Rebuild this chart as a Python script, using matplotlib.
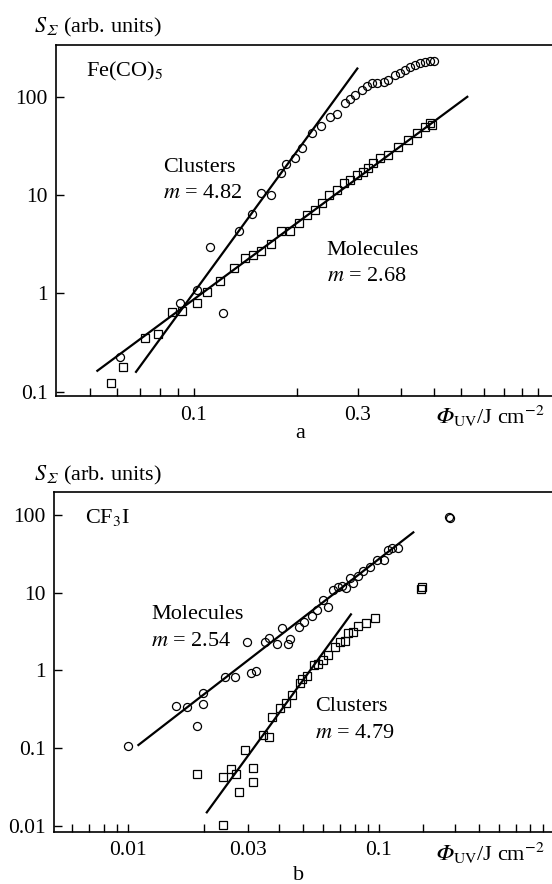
import numpy as np
import matplotlib
matplotlib.use('Agg')
import matplotlib.pyplot as plt
from matplotlib.ticker import NullLocator

plt.rcParams['font.family'] = ['Liberation Serif', 'DejaVu Serif']
plt.rcParams['mathtext.fontset'] = 'stix'

# ---- panel a: Fe(CO)5 ----
fe_clu_x = [0.0611, 0.0914, 0.1026, 0.1117, 0.1216, 0.1359, 0.1476, 0.1566, 0.1675, 0.179,
            0.186, 0.197, 0.2063, 0.2207, 0.2343, 0.2495, 0.2606, 0.2754, 0.2851, 0.2947,
            0.3085, 0.3189, 0.3298, 0.3408, 0.3563, 0.368, 0.3855, 0.398, 0.412, 0.426,
            0.4406, 0.455, 0.471, 0.4868, 0.498]
fe_clu_y = [0.223, 0.791, 1.08, 2.98, 0.626, 4.3, 6.36, 10.6, 10.1, 16.9,
            20.7, 23.6, 29.9, 42.4, 50.3, 62.6, 66.7, 85.7, 94, 104,
            117, 128, 137, 139, 142, 150, 166, 175, 187, 199,
            210, 219, 227, 232, 232]
fe_mol_x = [0.0574, 0.0625, 0.0723, 0.0787, 0.0868, 0.0924, 0.1022, 0.1097, 0.1189, 0.131,
            0.141, 0.1486, 0.157, 0.168, 0.1795, 0.191, 0.203, 0.2134, 0.2254, 0.2366,
            0.2475, 0.261, 0.2726, 0.285, 0.2985, 0.3115, 0.322, 0.333, 0.348, 0.368,
            0.3935, 0.421, 0.4457, 0.471, 0.4868, 0.4925]
fe_mol_y = [0.123, 0.177, 0.348, 0.383, 0.65, 0.66, 0.80, 1.03, 1.34, 1.82,
            2.30, 2.45, 2.69, 3.17, 4.30, 4.30, 5.15, 6.26, 7.03, 8.24,
            10.0, 11.2, 13.2, 14.2, 16.0, 17.3, 18.7, 21.0, 23.6, 25.5,
            31.0, 36.3, 42.4, 49.5, 53.7, 51.5]
fe_clu_fit_x = [0.068, 0.299]
fe_clu_fit_y = [0.159, 194]
fe_mol_fit_x = [0.0525, 0.624]
fe_mol_fit_y = [0.163, 100]

# ---- panel b: CF3I ----
cf_mol_x = [0.01003, 0.0155, 0.01714, 0.01888, 0.01995, 0.01995, 0.02434, 0.0267, 0.0297, 0.0308,
            0.0324, 0.0352, 0.0366, 0.0391, 0.0409, 0.0435, 0.0442, 0.0481, 0.0504, 0.0539,
            0.0565, 0.06, 0.0628, 0.0658, 0.0689, 0.071, 0.0739, 0.0766, 0.079, 0.0827,
            0.0866, 0.092, 0.098, 0.1047, 0.1089, 0.1122, 0.1194, 0.1905, 0.1925]
cf_mol_y = [0.107, 0.348, 0.335, 0.194, 0.507, 0.37, 0.815, 0.83, 2.34, 0.918,
            0.99, 2.34, 2.59, 2.17, 3.48, 2.17, 2.51, 3.65, 4.23, 5.01,
            5.99, 8.05, 6.49, 10.8, 11.7, 12.2, 11.4, 15.3, 13.2, 16.4,
            19.2, 21.6, 26.4, 26.4, 35.5, 37.3, 37.3, 95, 93]
cf_clu_x = [0.0189, 0.0238, 0.02565, 0.0269, 0.02777, 0.02924, 0.0316, 0.0316, 0.0238, 0.0344,
            0.0366, 0.0374, 0.0403, 0.0428, 0.0449, 0.0484, 0.0492, 0.0515, 0.0551, 0.0573,
            0.06, 0.0628, 0.0668, 0.070, 0.0732, 0.0755, 0.079, 0.0827, 0.0887, 0.0964,
            0.147, 0.149]
cf_clu_y = [0.0464, 0.0428, 0.0533, 0.046, 0.027, 0.0946, 0.055, 0.0363, 0.0102, 0.1475,
            0.140, 0.254, 0.325, 0.384, 0.482, 0.695, 0.775, 0.847, 1.17, 1.21,
            1.36, 1.58, 2.02, 2.34, 2.41, 3.05, 3.15, 3.73, 4.11, 4.68,
            11.3, 11.9]
cf_mol_fit_x = [0.011, 0.137]
cf_mol_fit_y = [0.1096, 59.9]
cf_clu_fit_x = [0.0206, 0.0773]
cf_clu_fit_y = [0.0149, 5.27]

# ticks
a_xticks = [0.05, 0.06, 0.07, 0.08, 0.09, 0.1, 0.2, 0.3, 0.4, 0.5, 0.6, 0.7, 0.8, 0.9, 1.0]
a_xlabels = ['', '', '', '', '', '0.1', '', '0.3', '', '', '', '', '', '', '']
a_yticks = [0.1, 1, 10, 100]
a_ylabels = ['0.1', '1', '10', '100']
b_xticks = [0.006, 0.007, 0.008, 0.009, 0.01, 0.02, 0.03, 0.04, 0.05, 0.06, 0.07, 0.08, 0.09,
            0.1, 0.15, 0.2, 0.25, 0.3, 0.35, 0.4, 0.45]
b_xlabels = ['', '', '', '', '0.01', '', '0.03', '', '', '', '', '', '',
             '0.1', '', '', '', '', '', '', '']
b_yticks = [0.01, 0.1, 1, 10, 100]
b_ylabels = ['0.01', '0.1', '1', '10', '100']

FS = 16
# italic capital Phi / Sigma (math italic code points, STIX has them)
PHI = '\U0001D6F7'
SIG = '\U0001D6F4'
xlab = '$' + PHI + r'_{\mathrm{UV}}$/J cm$^{-2}$'
ylab = '$S_{' + SIG + '}$ (arb. units)'
mk = dict(linestyle='none', markerfacecolor='none', markeredgecolor='black', markeredgewidth=0.9)

fig = plt.figure(figsize=(5.52, 8.84), dpi=100)
ax_a = fig.add_axes([0.1014, 0.552, 0.8986, 0.397])
ax_b = fig.add_axes([0.0978, 0.0592, 0.9022, 0.3842])


def style(ax, xt, xl, yt, yl, xlim, ylim):
    ax.set_xscale('log')
    ax.set_yscale('log')
    ax.set_xlim(*xlim)
    ax.set_ylim(*ylim)
    ax.set_xticks(xt, labels=xl)
    ax.set_yticks(yt, labels=yl)
    ax.xaxis.set_minor_locator(NullLocator())
    ax.yaxis.set_minor_locator(NullLocator())
    ax.tick_params(direction='in', length=6, width=1.0, labelsize=15.5)
    ax.tick_params(axis='x', pad=7)
    ax.tick_params(axis='y', pad=6)
    ax.spines['right'].set_visible(False)
    for s in ['left', 'top', 'bottom']:
        ax.spines[s].set_linewidth(1.2)


# panel a
ax_a.plot(fe_clu_x, fe_clu_y, marker='o', markersize=5.8, **mk)
ax_a.plot(fe_mol_x, fe_mol_y, marker='s', markersize=5.3, **mk)
ax_a.plot(fe_clu_fit_x, fe_clu_fit_y, color='black', lw=1.6)
ax_a.plot(fe_mol_fit_x, fe_mol_fit_y, color='black', lw=1.6)
style(ax_a, a_xticks, a_xlabels, a_yticks, a_ylabels, (0.0398, 1.10), (0.0902, 336))
ax_a.text(0.060, 0.924, 'Fe(CO)$_5$', transform=ax_a.transAxes, fontsize=FS, va='center')
ax_a.text(0.2157, 0.650, 'Clusters', transform=ax_a.transAxes, fontsize=FS, va='center')
ax_a.text(0.2157, 0.576, '$m$ = 4.82', transform=ax_a.transAxes, fontsize=FS, va='center')
ax_a.text(0.546, 0.416, 'Molecules', transform=ax_a.transAxes, fontsize=FS, va='center')
ax_a.text(0.546, 0.342, '$m$ = 2.68', transform=ax_a.transAxes, fontsize=FS, va='center')
ax_a.text(0.986, -0.059, xlab, transform=ax_a.transAxes, fontsize=FS, ha='right', va='center')
ax_a.text(0.492, -0.108, 'a', transform=ax_a.transAxes, fontsize=FS, ha='center', va='center')
ax_a.text(-0.045, 1.051, ylab, transform=ax_a.transAxes, fontsize=FS, va='center')

# panel b
ax_b.plot(cf_mol_x, cf_mol_y, marker='o', markersize=5.8, **mk)
ax_b.plot(cf_clu_x, cf_clu_y, marker='s', markersize=5.3, **mk)
ax_b.plot(cf_mol_fit_x, cf_mol_fit_y, color='black', lw=1.6)
ax_b.plot(cf_clu_fit_x, cf_clu_fit_y, color='black', lw=1.6)
style(ax_b, b_xticks, b_xlabels, b_yticks, b_ylabels, (0.00507, 0.489), (0.0084, 198))
ax_b.text(0.0616, 0.926, 'CF$_3$I', transform=ax_b.transAxes, fontsize=FS, va='center')
ax_b.text(0.1948, 0.638, 'Molecules', transform=ax_b.transAxes, fontsize=FS, va='center')
ax_b.text(0.1948, 0.559, '$m$ = 2.54', transform=ax_b.transAxes, fontsize=FS, va='center')
ax_b.text(0.524, 0.368, 'Clusters', transform=ax_b.transAxes, fontsize=FS, va='center')
ax_b.text(0.524, 0.290, '$m$ = 4.79', transform=ax_b.transAxes, fontsize=FS, va='center')
ax_b.text(0.986, -0.063, xlab, transform=ax_b.transAxes, fontsize=FS, ha='right', va='center')
ax_b.text(0.492, -0.128, 'b', transform=ax_b.transAxes, fontsize=FS, ha='center', va='center')
ax_b.text(-0.041, 1.050, ylab, transform=ax_b.transAxes, fontsize=FS, va='center')

fig.savefig('out.png', dpi=100)
